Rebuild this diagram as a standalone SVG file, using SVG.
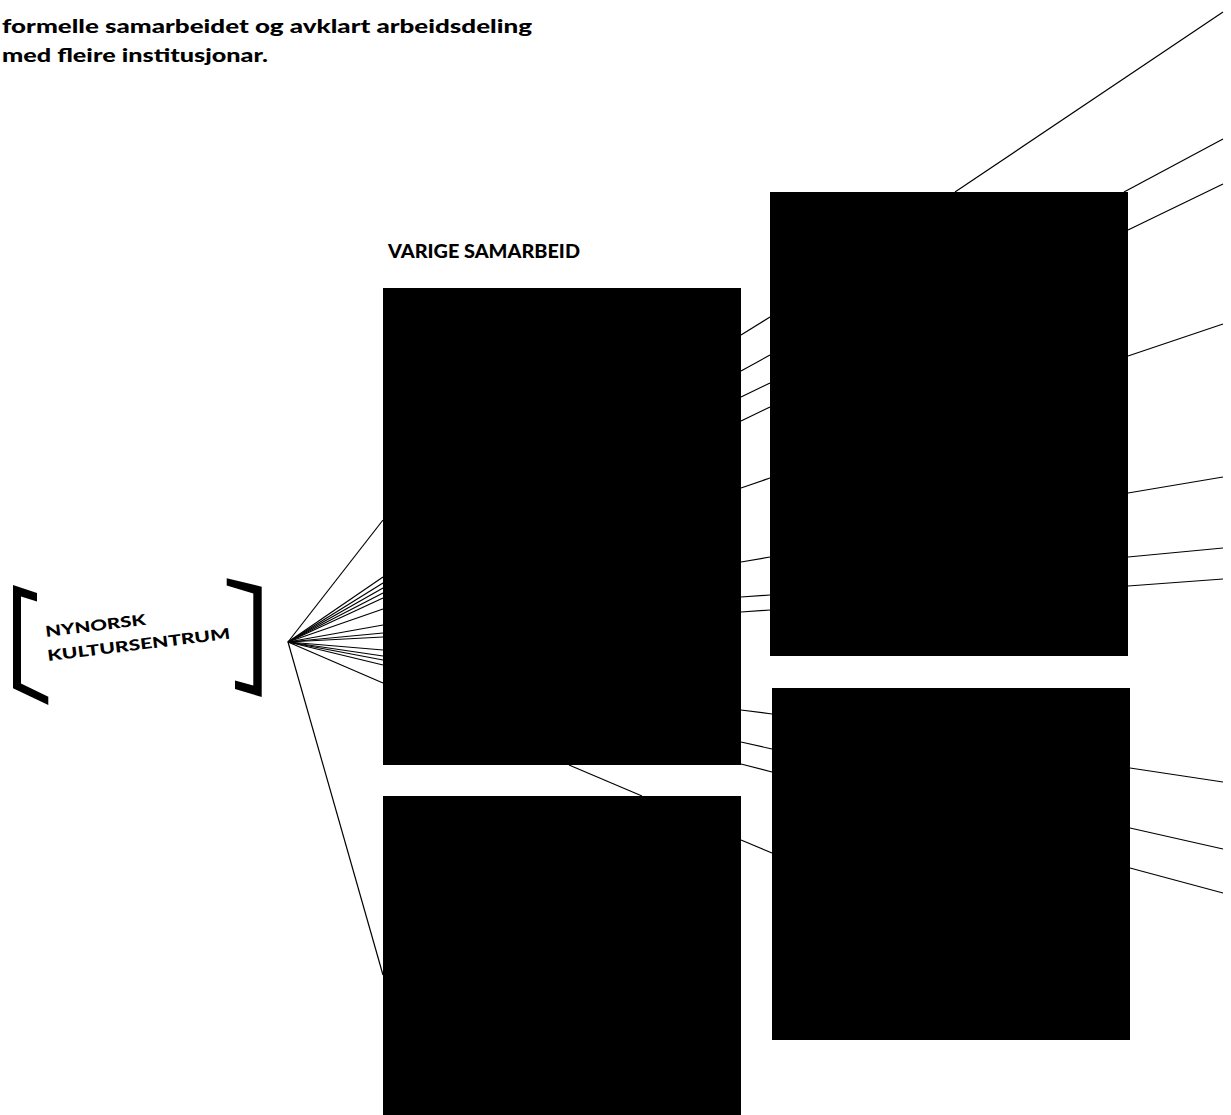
<svg xmlns="http://www.w3.org/2000/svg" width="1231" height="1115" viewBox="0 0 1231 1115">
<style>
.bg{fill:#ffffff}
.box{fill:#000000}
.ln{stroke:#000000;stroke-width:1.2;fill:none}
.para{font-family:Lato,"Liberation Sans",sans-serif;font-weight:900;font-size:19.5px;fill:#000}
.head{font-family:Lato,"Liberation Sans",Arial,sans-serif;font-weight:900;font-size:18px;fill:#000}
.logo{font-family:Lato,"Liberation Sans",Arial,sans-serif;font-weight:900;font-size:15px;fill:#000}
</style>
<rect class="bg" x="0" y="0" width="1231" height="1115"/>

<g id="intro">
<text class="para" x="2" y="33" textLength="530" lengthAdjust="spacingAndGlyphs">formelle samarbeidet og avklart arbeidsdeling</text>
<text class="para" x="2" y="62" textLength="266" lengthAdjust="spacingAndGlyphs">med fleire institusjonar.</text>
</g>

<g id="connectors">
<line class="ln" x1="288" y1="642" x2="383" y2="520"/>
<line class="ln" x1="288" y1="642" x2="383" y2="577"/>
<line class="ln" x1="288" y1="642" x2="383" y2="583"/>
<line class="ln" x1="288" y1="642" x2="383" y2="588"/>
<line class="ln" x1="288" y1="642" x2="383" y2="593"/>
<line class="ln" x1="288" y1="642" x2="383" y2="598"/>
<line class="ln" x1="288" y1="642" x2="383" y2="609"/>
<line class="ln" x1="288" y1="642" x2="383" y2="625"/>
<line class="ln" x1="288" y1="642" x2="383" y2="633"/>
<line class="ln" x1="288" y1="642" x2="383" y2="637"/>
<line class="ln" x1="288" y1="642" x2="383" y2="650"/>
<line class="ln" x1="288" y1="642" x2="383" y2="656"/>
<line class="ln" x1="288" y1="642" x2="383" y2="660"/>
<line class="ln" x1="288" y1="642" x2="383" y2="665"/>
<line class="ln" x1="288" y1="642" x2="383" y2="683"/>
<line class="ln" x1="288" y1="642" x2="383" y2="975"/>
<line class="ln" x1="741" y1="335" x2="770" y2="317"/>
<line class="ln" x1="741" y1="371" x2="770" y2="355"/>
<line class="ln" x1="741" y1="397" x2="770" y2="383"/>
<line class="ln" x1="741" y1="421" x2="770" y2="407"/>
<line class="ln" x1="741" y1="488" x2="770" y2="478"/>
<line class="ln" x1="741" y1="562" x2="770" y2="557"/>
<line class="ln" x1="741" y1="597" x2="770" y2="595"/>
<line class="ln" x1="741" y1="612" x2="770" y2="610"/>
<line class="ln" x1="741" y1="710" x2="772" y2="714"/>
<line class="ln" x1="741" y1="742" x2="772" y2="749"/>
<line class="ln" x1="741" y1="764" x2="772" y2="772"/>
<line class="ln" x1="741" y1="840" x2="772" y2="853"/>
<line class="ln" x1="569" y1="765" x2="642" y2="796"/>
<line class="ln" x1="955" y1="192" x2="1223" y2="12"/>
<line class="ln" x1="1124" y1="192" x2="1223" y2="139"/>
<line class="ln" x1="1128" y1="230" x2="1223" y2="184"/>
<line class="ln" x1="1128" y1="356" x2="1223" y2="324"/>
<line class="ln" x1="1128" y1="493" x2="1223" y2="477"/>
<line class="ln" x1="1128" y1="557" x2="1223" y2="548"/>
<line class="ln" x1="1128" y1="586" x2="1223" y2="579"/>
<line class="ln" x1="1130" y1="768" x2="1223" y2="782"/>
<line class="ln" x1="1130" y1="828" x2="1223" y2="849"/>
<line class="ln" x1="1130" y1="868" x2="1223" y2="893"/>
</g>

<g id="hub">
<polygon class="box" points="13,585 37,593 37,601.5 21,596.5 21,683.5 48.3,696.7 48.3,705 13,688.3"/>
<polygon class="box" points="226.7,578.3 261.7,586.7 261.7,697 235,689 235,680.5 253.3,685.5 253.3,593.5 226.7,585.5"/>
<text class="logo" transform="translate(46,637) rotate(-7)" textLength="101" lengthAdjust="spacingAndGlyphs">NYNORSK</text>
<text class="logo" transform="translate(48,661) rotate(-7)" textLength="184" lengthAdjust="spacingAndGlyphs">KULTURSENTRUM</text>
</g>

<g id="varige">
<text class="head" x="388" y="258" textLength="192" lengthAdjust="spacingAndGlyphs">VARIGE SAMARBEID</text>
<rect class="box" x="383" y="288" width="358" height="477"/>
</g>

<g id="box-lower-left">
<rect class="box" x="383" y="796" width="358" height="319"/>
</g>

<g id="box-upper-right">
<rect class="box" x="770" y="192" width="358" height="464"/>
</g>

<g id="box-lower-right">
<rect class="box" x="772" y="688" width="358" height="352"/>
</g>
</svg>
